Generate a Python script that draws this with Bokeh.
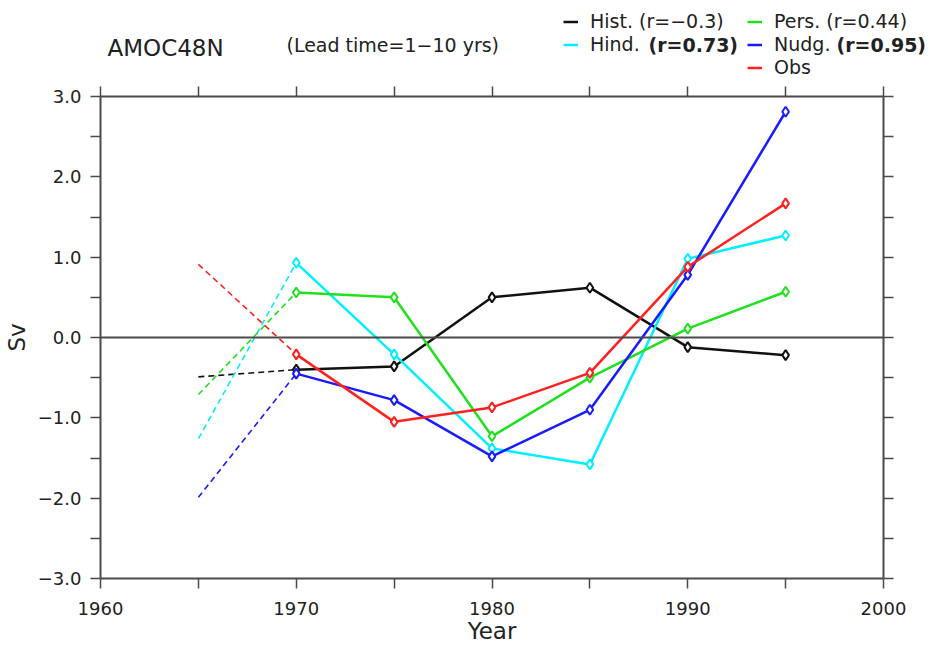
from bokeh.plotting import figure
from bokeh.layouts import column, row
from bokeh.models import (LinearAxis, FixedTicker, Span, Label, Legend, LegendItem, Range1d)
from bokeh.embed import file_html
from bokeh.resources import INLINE

# ---- data ----
years = [1965, 1970, 1975, 1980, 1985, 1990, 1995]
hist = [-0.49, -0.40, -0.36, 0.50, 0.62, -0.12, -0.22]
pers = [-0.71, 0.56, 0.50, -1.23, -0.50, 0.11, 0.57]
hind = [-1.26, 0.93, -0.21, -1.38, -1.58, 0.98, 1.27]
nudg = [-1.99, -0.45, -0.78, -1.48, -0.90, 0.78, 2.81]
obs = [0.91, -0.21, -1.05, -0.87, -0.44, 0.88, 1.67]

x_ticks = [1960, 1970, 1980, 1990, 2000]
x_minor = [1965, 1975, 1985, 1995]
y_ticks = [-3, -2, -1, 0, 1, 2, 3]
y_minor = [-2.5, -1.5, -0.5, 0.5, 1.5, 2.5]
y_labels = ["\u22123.0", "\u22122.0", "\u22121.0", "0.0", "1.0", "2.0", "3.0"]

series = [
    ("Hist.", hist, "#111111"),
    ("Hind.", hind, "#00f0ff"),
    ("Pers.", pers, "#20e020"),
    ("Nudg.", nudg, "#1a1aff"),
    ("Obs", obs, "#ff2020"),
]
legend_col1 = [("Hist.", "Hist. (r=\u22120.3)"), ("Hind.", "Hind.")]
legend_col2 = [("Pers.", "Pers. (r=0.44)"), ("Nudg.", "Nudg."), ("Obs", "Obs")]
bold_r = ["(r=0.73)", "(r=0.95)"]
title_text = "AMOC48N"
subtitle_text = "(Lead time=1\u221210 yrs)"

FONT = "DejaVu Sans"
AXC = "#4a4a4a"
TXT = "#222222"
W = 933
HEAD_H = 84

# ---------------- header (title + legend) ----------------
h = figure(width=W, height=HEAD_H, output_backend="svg", toolbar_location=None,
           x_range=Range1d(0, W), y_range=Range1d(HEAD_H, 0),
           min_border=0, x_axis_type=None, y_axis_type=None)
h.grid.visible = False
h.outline_line_color = None
h.background_fill_color = "white"
h.border_fill_color = "white"

nan = float("nan")
dummy = {}
for n, _, c in series:
    dummy[n] = h.line(x=[nan], y=[nan], line_color=c, line_width=2.5)

def make_legend(entries, vx, vy):
    lg = Legend(items=[LegendItem(label=lab, renderers=[dummy[n]]) for n, lab in entries],
                location=(vx, vy), orientation="vertical",
                padding=0, margin=0, spacing=0, label_height=23, glyph_height=23,
                glyph_width=15, label_standoff=12, border_line_alpha=0,
                background_fill_alpha=0, label_text_font=FONT,
                label_text_font_size="19px", label_text_color=TXT)
    h.add_layout(lg)

make_legend(legend_col1, 563, HEAD_H - 55.5)
make_legend(legend_col2, 747, HEAD_H - 78.5)

for txt, x in zip(bold_r, [648, 836]):
    h.add_layout(Label(x=x, y=44, text=txt, text_font=FONT, text_font_size="19px",
                       text_font_style="bold", text_color=TXT,
                       text_baseline="middle", text_align="left"))

h.add_layout(Label(x=107, y=47, text=title_text, text_font=FONT,
                   text_font_size="23px", text_color=TXT,
                   text_baseline="middle", text_align="left"))
h.add_layout(Label(x=286, y=44, text=subtitle_text, text_font=FONT,
                   text_font_size="19px", text_color=TXT,
                   text_baseline="middle", text_align="left"))

# ---------------- main plot ----------------
p = figure(width=W, height=646 - HEAD_H, output_backend="svg", toolbar_location=None,
           x_range=Range1d(1960, 2000), y_range=Range1d(-3, 3),
           min_border_left=100, min_border_right=50, min_border_top=12,
           min_border_bottom=68, x_axis_type=None, y_axis_type=None)
p.grid.visible = False
p.outline_line_color = None
p.background_fill_color = "white"
p.border_fill_color = "white"

def style(ax, labels=True):
    ax.axis_line_color = AXC
    ax.axis_line_width = 2
    ax.major_tick_line_color = AXC
    ax.minor_tick_line_color = AXC
    ax.major_tick_line_width = 1.5
    ax.minor_tick_line_width = 1.5
    ax.major_tick_out = 10
    ax.major_tick_in = 0
    ax.minor_tick_out = 10
    ax.minor_tick_in = 0
    ax.major_label_text_font = FONT
    ax.major_label_text_font_size = "18px"
    ax.major_label_text_color = TXT
    ax.axis_label_text_font = FONT
    ax.axis_label_text_font_style = "normal"
    ax.axis_label_text_color = TXT
    ax.axis_label_text_font_size = "23px"
    if not labels:
        ax.major_label_overrides = {float(t): "" for t in ax.ticker.ticks}
        ax.major_label_standoff = 0
        ax.major_label_text_font_size = "1px"

xt = FixedTicker(ticks=x_ticks, minor_ticks=x_minor)
yt = FixedTicker(ticks=y_ticks, minor_ticks=y_minor)

xb = LinearAxis(ticker=xt, axis_label="Year")
style(xb)
xb.major_label_standoff = 13
xb.axis_label_standoff = 0
p.add_layout(xb, "below")

xa = LinearAxis(ticker=xt)
style(xa, labels=False)
p.add_layout(xa, "above")

yl = LinearAxis(ticker=yt, axis_label="Sv")
style(yl)
yl.major_label_standoff = 9
yl.axis_label_standoff = 5
yl.major_label_overrides = {float(v): s for v, s in zip(y_ticks, y_labels)}
p.add_layout(yl, "left")

yr = LinearAxis(ticker=yt)
style(yr, labels=False)
p.add_layout(yr, "right")

p.add_layout(Span(location=0, dimension="width", line_color=AXC, line_width=2))

for name, vals, col in series:
    p.line(years[:2], vals[:2], line_color=col, line_width=1.6, line_dash="6 4")
    p.line(years[1:], vals[1:], line_color=col, line_width=2.5)
    p.scatter(years[1:], vals[1:], marker="diamond", size=10, line_color=col,
              fill_color="white", line_width=2)

layout = column(row(h, spacing=0), p, spacing=0)
open("out.html", "w").write(file_html(layout, INLINE))
